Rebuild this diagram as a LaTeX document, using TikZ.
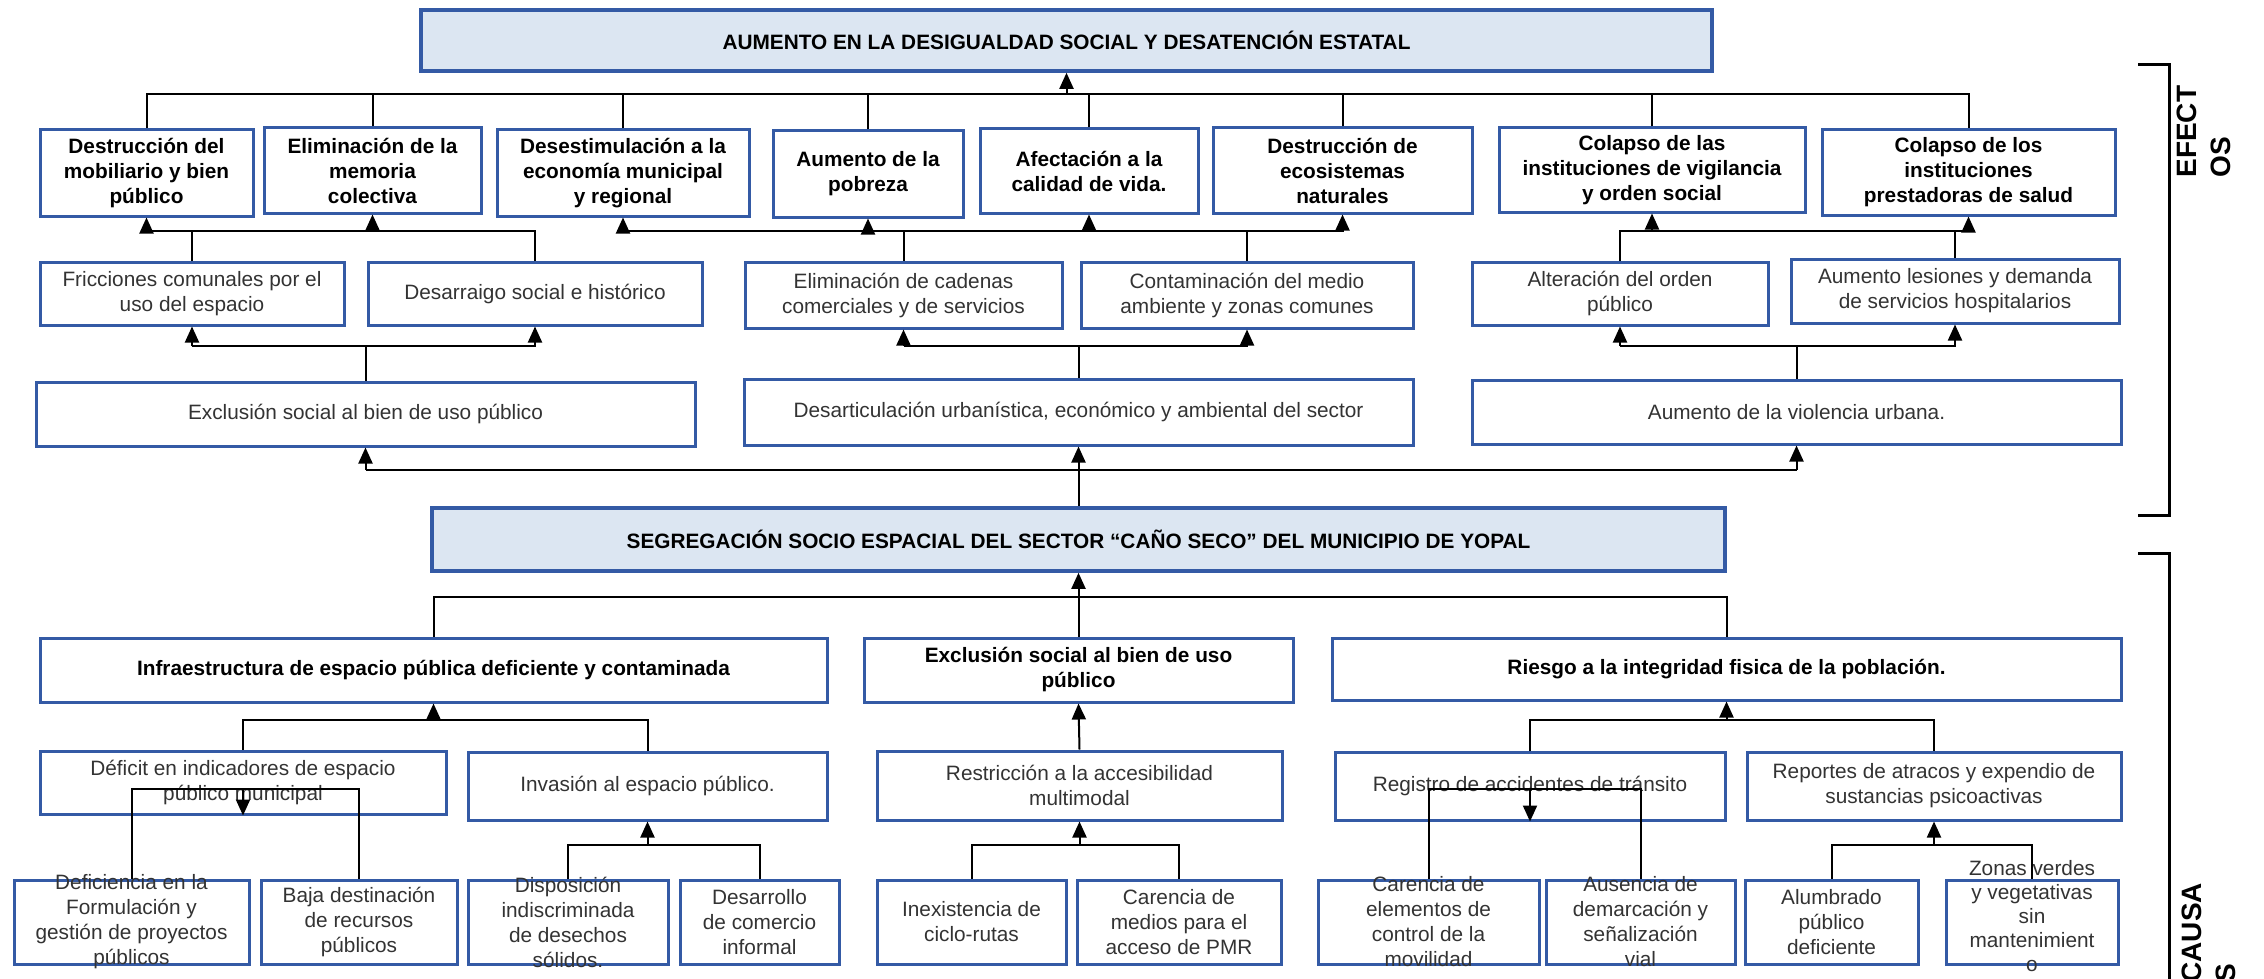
\documentclass[tikz,border=0pt]{standalone}
\usepackage{fontspec}
\setmainfont{Liberation Sans}
\usetikzlibrary{arrows.meta}
\definecolor{bblue}{RGB}{52,90,165}
\definecolor{lblue}{RGB}{220,230,242}
\newcommand{\bx}[8]{%
 \pgfmathsetmacro{\bw}{(#6-#4)*0.5}%
 \pgfmathsetmacro{\bh}{(#7-#5)*0.5}%
 \node[#1, minimum width=\bw pt, minimum height=\bh pt] (#3) at ({(#4+#6)/2},{(#5+#7)/2}) {};%
 \node[#2] (#3-t) at (#3.center) {#8};}
\begin{document}
\begin{tikzpicture}[x=0.5pt,y=-0.5pt,
 box/.style={draw=bblue, line width=1.5pt, fill=white, rectangle, inner sep=0pt},
 hbox/.style={box, fill=lblue, line width=1.8pt},
 txt/.style={font=\fontsize{10.4}{12.5}\selectfont, align=center, inner sep=0pt, text=black!80},
 btxt/.style={txt, font=\fontsize{10.4}{12.5}\selectfont\bfseries, text=black},
 side/.style={font=\fontsize{14}{16.6}\selectfont\bfseries, align=left, inner sep=0pt, rotate=90, anchor=north west},
 conn/.style={line width=1pt, black},
 arr/.style={conn, -{Triangle[length=8pt,width=7pt]}},
 brk/.style={line width=1.5pt, black}]
\useasboundingbox (0,0) rectangle (2264,979);
\fill[white] (0,0) rectangle (2264,979);

% ---------- EFFECTS ----------
\bx{hbox}{btxt}{top}{421}{10}{1712}{71}{AUMENTO EN LA DESIGUALDAD SOCIAL Y DESATENCIÓN ESTATAL}

\bx{box}{btxt}{e1}{40}{130}{253}{216}{Destrucción del\\mobiliario y bien\\público}
\bx{box}{btxt}{e2}{264}{128}{481}{213}{Eliminación de la\\memoria\\colectiva}
\bx{box}{btxt}{e3}{497}{130}{749}{216}{Desestimulación a la\\economía municipal\\y regional}
\bx{box}{btxt}{e4}{773}{131}{963}{217}{Aumento de la\\pobreza}
\bx{box}{btxt}{e5}{980}{129}{1198}{213}{Afectación a la\\calidad de vida.}
\bx{box}{btxt}{e6}{1213}{128}{1472}{213}{Destrucción de\\ecosistemas\\naturales}
\bx{box}{btxt}{e7}{1499}{128}{1805}{212}{Colapso de las\\instituciones de vigilancia\\y orden social}
\bx{box}{btxt}{e8}{1822}{130}{2115}{215}{Colapso de los\\instituciones\\prestadoras de salud}

\bx{box}{txt}{f1}{40}{262}{344}{325}{Fricciones comunales por el\\uso del espacio}
\bx{box}{txt}{f2}{368}{262}{702}{325}{Desarraigo social e histórico}
\bx{box}{txt}{f3}{745}{262}{1062}{328}{Eliminación de cadenas\\comerciales y de servicios}
\bx{box}{txt}{f4}{1081}{262}{1413}{328}{Contaminación del medio\\ambiente y zonas comunes}
\bx{box}{txt}{f5}{1472}{262}{1768}{325}{Alteración del orden\\público}
\bx{box}{txt}{f6}{1791}{259}{2119}{323}{Aumento lesiones y demanda\\de servicios hospitalarios}

\bx{box}{txt}{g1}{36}{382}{695}{446}{Exclusión social al bien de uso público}
\bx{box}{txt}{g2}{744}{379}{1413}{445}{Desarticulación urbanística, económico y ambiental del sector}
\bx{box}{txt}{g3}{1472}{380}{2121}{444}{Aumento de la violencia urbana.}

\bx{hbox}{btxt}{S}{432}{508}{1725}{571}{SEGREGACIÓN SOCIO ESPACIAL DEL SECTOR “CAÑO SECO” DEL MUNICIPIO DE YOPAL}

% ---------- CAUSES ----------
\bx{box}{btxt}{c1}{40}{638}{827}{702}{Infraestructura de espacio pública deficiente y contaminada}
\bx{box}{btxt}{c2}{864}{638}{1293}{702}{Exclusión social al bien de uso\\público}
\bx{box}{btxt}{c3}{1332}{638}{2121}{700}{Riesgo a la integridad fisica de la población.}

\bx{box}{txt}{d1}{40}{751}{446}{814}{Déficit en indicadores de espacio\\público municipal}
\bx{box}{txt}{d2}{468}{752}{827}{820}{Invasión al espacio público.}
\bx{box}{txt}{d3}{877}{751}{1282}{820}{Restricción a la accesibilidad\\multimodal}
\bx{box}{txt}{d4}{1335}{752}{1725}{820}{Registro de accidentes de tránsito}
\bx{box}{txt}{d5}{1747}{752}{2121}{820}{Reportes de atracos y expendio de\\sustancias psicoactivas}

\bx{box}{txt}{h1}{14}{880}{249}{964}{Deficiencia en la\\Formulación y\\gestión de proyectos\\públicos}
\bx{box}{txt}{h2}{261}{880}{457}{964}{Baja destinación\\de recursos\\públicos}
\bx{box}{txt}{h3}{468}{880}{668}{964}{Disposición\\indiscriminada\\de desechos\\sólidos.}
\bx{box}{txt}{h4}{680}{880}{839}{964}{Desarrollo\\de comercio\\informal}
\bx{box}{txt}{h5}{877}{880}{1066}{964}{Inexistencia de\\ciclo-rutas}
\bx{box}{txt}{h6}{1077}{880}{1281}{964}{Carencia de\\medios para el\\acceso de PMR}
\bx{box}{txt}{h7}{1318}{880}{1539}{964}{Carencia de\\elementos de\\control de la\\movilidad}
\bx{box}{txt}{h8}{1546}{880}{1735}{964}{Ausencia de\\demarcación y\\señalización\\vial}
\bx{box}{txt}{h9}{1745}{880}{1918}{964}{Alumbrado\\público\\deficiente}
\bx{box}{txt}{h10}{1946}{880}{2118}{964}{}
\node[txt, font=\fontsize{10.4}{12}\selectfont] (h10-t2) at ([yshift=3pt]h10.center) {Zonas verdes\\y vegetativas\\sin\\mantenimient\\o};

% ---------- bus levels ----------
\coordinate (yTop) at (0,94);
\coordinate (yE) at (0,231);
\coordinate (yF) at (0,346);
\coordinate (yG) at (0,470);
\coordinate (yS) at (0,597);
\coordinate (yC) at (0,720);
\coordinate (yD) at (0,789);
\coordinate (yH) at (0,845);

% effects row 1 -> top
\draw[conn] (e1.north) -- (e1.north |- yTop) -- (e8.north |- yTop) -- (e8.north);
\foreach \n in {e2,e3,e4,e5,e6,e7} \draw[conn] (\n.north) -- (\n.north |- yTop);
\draw[arr] (top.south |- yTop) -- (top.south);

% effects row 2 -> row 1
\draw[conn] (f1.north) -- (f1.north |- yE);
\draw[arr] (f2.north) -- (f2.north |- yE) -- (e1.south |- yE) -- (e1.south);
\draw[arr] (e2.south |- yE) -- (e2.south);
\draw[conn] (f3.north) -- (f3.north |- yE);
\draw[conn] (f4.north) -- (f4.north |- yE);
\draw[arr] (e3.south |- yE) -- (e6.south |- yE) -- (e6.south);
\draw[arr] (e3.south |- yE) -- (e3.south);
\draw[arr] (e4.south |- yE) -- (e4.south);
\draw[arr] (e5.south |- yE) -- (e5.south);
\draw[arr] (f5.north) -- (f5.north |- yE) -- (e8.south |- yE) -- (e8.south);
\draw[conn] (f6.north) -- (f6.north |- yE);
\draw[arr] (e7.south |- yE) -- (e7.south);

% effects row 3 -> row 2
\draw[arr] (f1.south |- yF) -- (f1.south);
\draw[arr] (f1.south |- yF) -- (f2.south |- yF) -- (f2.south);
\draw[conn] (g1.north) -- (g1.north |- yF);
\draw[arr] (f3.south |- yF) -- (f3.south);
\draw[arr] (f3.south |- yF) -- (f4.south |- yF) -- (f4.south);
\draw[conn] (g2.north) -- (g2.north |- yF);
\draw[arr] (f5.south |- yF) -- (f5.south);
\draw[arr] (f5.south |- yF) -- (f6.south |- yF) -- (f6.south);
\draw[conn] (g3.north) -- (g3.north |- yF);

% central problem -> effects
\draw[conn] (g1.south |- yG) -- (g3.south |- yG);
\draw[arr] (g1.south |- yG) -- (g1.south);
\draw[arr] (S.north) -- (g2.south);
\draw[arr] (g3.south |- yG) -- (g3.south);

% causes row 1 -> central problem
\draw[conn] (c1.north) -- (c1.north |- yS) -- (c3.north |- yS) -- (c3.north);
\draw[arr] (c2.north) -- (S.south);

% causes row 2 -> row 1
\draw[conn] (d1.north) -- (d1.north |- yC) -- (d2.north |- yC) -- (d2.north);
\draw[arr] (c1.south |- yC) -- (c1.south);
\draw[arr] (d3.north) -- (c2.south);
\draw[conn] (d4.north) -- (d4.north |- yC) -- (d5.north |- yC) -- (d5.north);
\draw[arr] (c3.south |- yC) -- (c3.south);

% causes row 3 -> row 2
\draw[conn] (h1.north) -- (h1.north |- yD) -- (h2.north |- yD) -- (h2.north);
\draw[arr] (d1.south |- yD) -- (d1.south);
\draw[conn] (h3.north) -- (h3.north |- yH) -- (h4.north |- yH) -- (h4.north);
\draw[arr] (d2.south |- yH) -- (d2.south);
\draw[conn] (h5.north) -- (h5.north |- yH) -- (h6.north |- yH) -- (h6.north);
\draw[arr] (d3.south |- yH) -- (d3.south);
\draw[conn] (h7.north) -- (h7.north |- yD) -- (h8.north |- yD) -- (h8.north);
\draw[arr] (d4.south |- yD) -- (d4.south);
\draw[conn] (h9.north) -- (h9.north |- yH) -- (h10.north |- yH) -- (h10.north);
\draw[arr] (d5.south |- yH) -- (d5.south);

% ---------- side brackets ----------
\coordinate (bE1) at (2138,65);
\coordinate (bE2) at (2169,515);
\draw[brk] (bE1) -- (bE1 -| bE2) -- (bE2) -- (bE2 -| bE1);
\coordinate (bC1) at (2138,553);
\coordinate (bC2) at (2169,995);
\draw[brk] (bC1) -- (bC1 -| bC2) -- (bC2);
\node[side] (efectos) at (2177,178) {EFECT\\OS};
\node[side] (causas) at (2182,983) {CAUSA\\S};
\end{tikzpicture}
\end{document}
